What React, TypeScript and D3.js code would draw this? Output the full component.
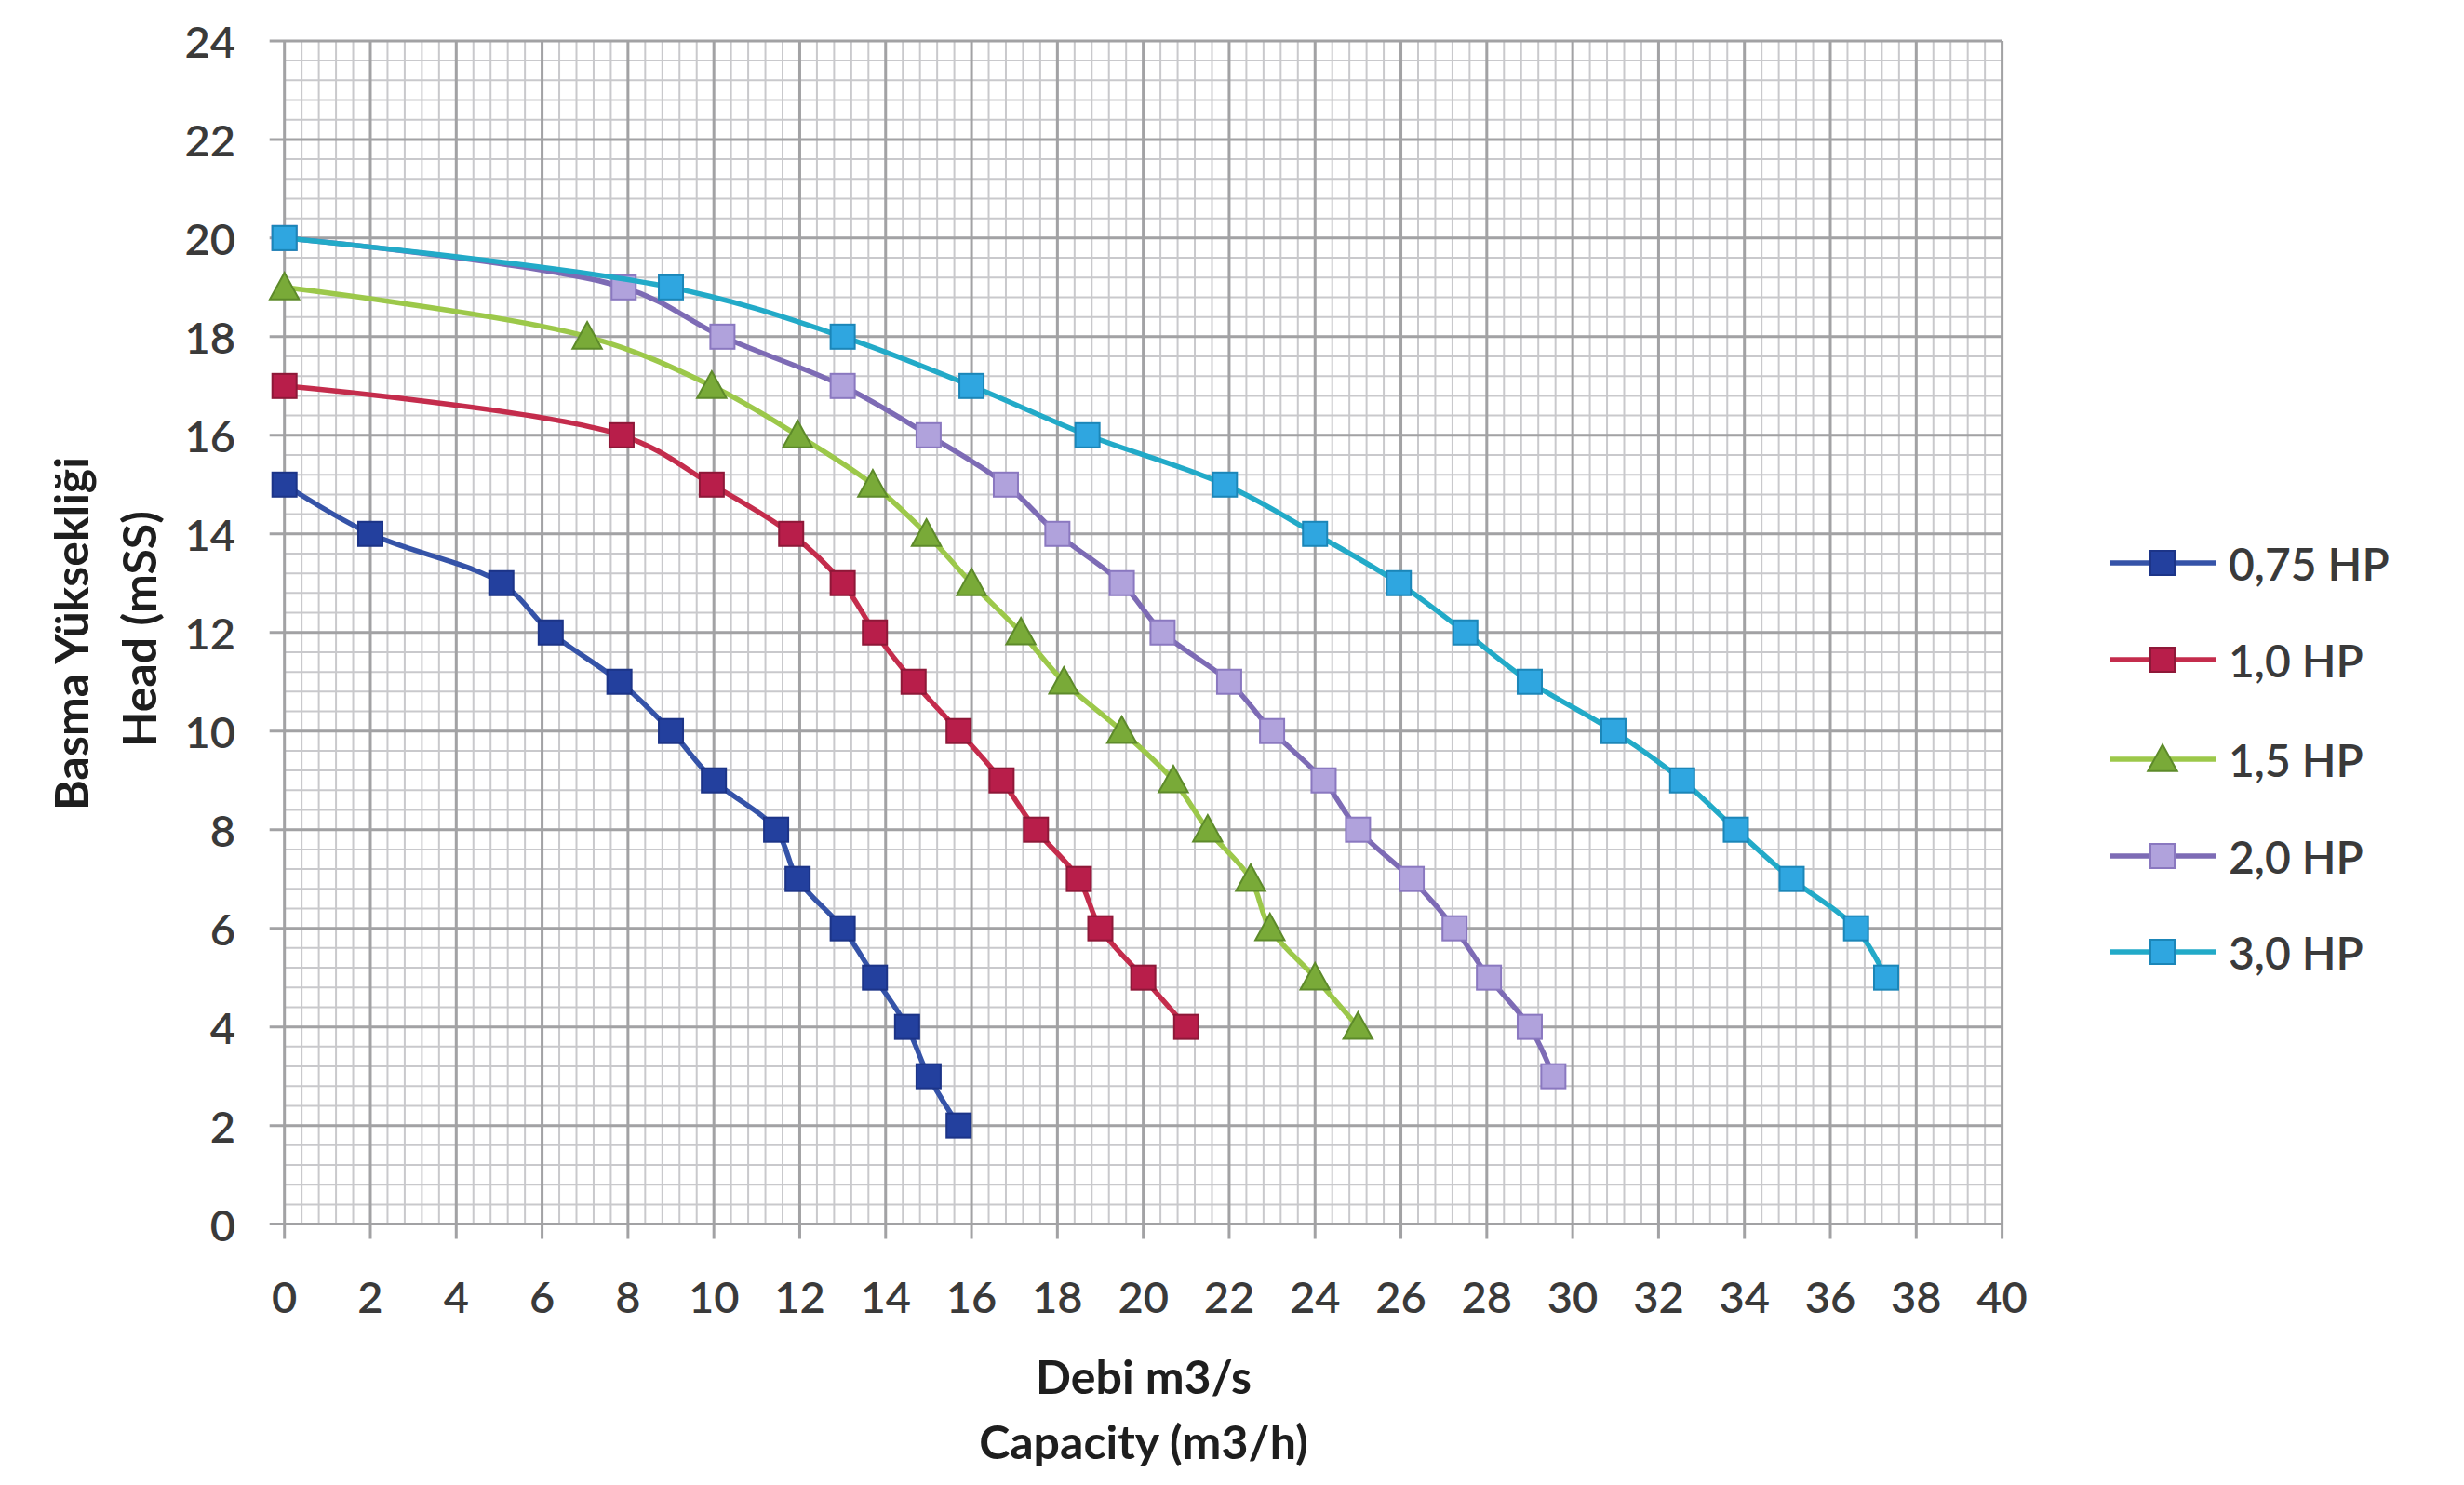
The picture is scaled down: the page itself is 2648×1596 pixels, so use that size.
import React from "react";
import * as d3 from "d3";

const W = 2648;
const H = 1596;

const xTicks = d3.range(0, 41, 2);
const yTicks = d3.range(0, 25, 2);

const seriesNames = ["0,75 HP", "1,0 HP", "1,5 HP", "2,0 HP", "3,0 HP"];

const flow075 = [0, 2.0, 5.05, 6.2, 7.8, 9.0, 10.0, 11.45, 11.95, 13.0, 13.75, 14.5, 15.0, 15.7];
const head075 = [15, 14, 13, 12, 11, 10, 9, 8, 7, 6, 5, 4, 3, 2];

const flow10 = [0, 7.85, 9.95, 11.8, 13.0, 13.75, 14.65, 15.7, 16.7, 17.5, 18.5, 19.0, 20.0, 21.0];
const head10 = [17, 16, 15, 14, 13, 12, 11, 10, 9, 8, 7, 6, 5, 4];

const flow15 = [0, 7.05, 9.95, 11.95, 13.7, 14.95, 16.0, 17.15, 18.15, 19.5, 20.7, 21.5, 22.5, 22.95, 24.0, 25.0];
const head15 = [19, 18, 17, 16, 15, 14, 13, 12, 11, 10, 9, 8, 7, 6, 5, 4];

const flow20 = [0, 7.9, 10.2, 13.0, 15.0, 16.8, 18.0, 19.5, 20.45, 22.0, 23.0, 24.2, 25.0, 26.25, 27.25, 28.05, 29.0, 29.55];
const head20 = [20, 19, 18, 17, 16, 15, 14, 13, 12, 11, 10, 9, 8, 7, 6, 5, 4, 3];

const flow30 = [0, 9.0, 13.0, 16.0, 18.7, 21.9, 24.0, 25.95, 27.5, 29.0, 30.95, 32.55, 33.8, 35.1, 36.6, 37.3];
const head30 = [20, 19, 18, 17, 16, 15, 14, 13, 12, 11, 10, 9, 8, 7, 6, 5];

const flows = [flow075, flow10, flow15, flow20, flow30];
const heads = [head075, head10, head15, head20, head30];

const lineColors = ["#3553a8", "#c42c4c", "#9cc84a", "#7d6bb5", "#22aac8"];
const markerFill = ["#23409e", "#b81e4a", "#79aa38", "#b0a2dc", "#2fa6e0"];
const markerStroke = ["#1c3488", "#8e1838", "#5d8a2a", "#8a78c0", "#1b86b8"];
const markerShape = ["square", "square", "triangle", "square", "square"];

const FONT = "Lato, 'Open Sans', sans-serif";

export default function App() {
  const x = d3.scaleLinear().domain([0, 40]).range([305.7, 2151.6]);
  const y = d3.scaleLinear().domain([0, 24]).range([1315.6, 43.9]);

  const minorX = d3.range(0, 40.001, 0.4);
  const minorY = d3.range(0, 24.001, 0.4);

  const line = d3
    .line<[number, number]>()
    .x((d) => x(d[0]))
    .y((d) => y(d[1]))
    .curve(d3.curveCatmullRom.alpha(0.5));

  const ms = 26;
  const marker = (i: number, cx: number, cy: number, key: string) => {
    if (markerShape[i] === "triangle") {
      const s = ms * 1.1;
      const p = `M${cx},${cy - s * 0.55} L${cx + s * 0.55},${cy + s * 0.45} L${cx - s * 0.55},${cy + s * 0.45} Z`;
      return <path key={key} d={p} fill={markerFill[i]} stroke={markerStroke[i]} strokeWidth={2} />;
    }
    return (
      <rect
        key={key}
        x={cx - ms / 2}
        y={cy - ms / 2}
        width={ms}
        height={ms}
        fill={markerFill[i]}
        stroke={markerStroke[i]}
        strokeWidth={2}
      />
    );
  };

  const legendY = [605, 709, 816, 920, 1023];

  return (
    <svg
      width={W}
      height={H}
      viewBox={`0 0 ${W} ${H}`}
      style={{ position: "absolute", left: 0, top: 0, background: "#fff" }}
    >
      <rect x={0} y={0} width={W} height={H} fill="#fff" />
      {/* minor grid */}
      <g stroke="#c9c9cc" strokeWidth={2}>
        {minorX.map((v, i) => (
          <line key={"mx" + i} x1={x(v)} x2={x(v)} y1={y(24)} y2={y(0)} />
        ))}
        {minorY.map((v, i) => (
          <line key={"my" + i} x1={x(0)} x2={x(40)} y1={y(v)} y2={y(v)} />
        ))}
      </g>
      {/* major grid */}
      <g stroke="#a2a2a4" strokeWidth={3}>
        {xTicks.map((v) => (
          <line key={"Mx" + v} x1={x(v)} x2={x(v)} y1={y(24)} y2={y(0) + 16} />
        ))}
        {yTicks.map((v) => (
          <line key={"My" + v} x1={x(0) - 16} x2={x(40)} y1={y(v)} y2={y(v)} />
        ))}
      </g>
      {/* tick labels */}
      <g fontFamily={FONT} fontSize={47} fontWeight={600} fill="#3a3a3a">
        {yTicks.map((v) => (
          <text key={"yl" + v} x={253} y={y(v)} textAnchor="end" dominantBaseline="central">
            {v}
          </text>
        ))}
        {xTicks.map((v) => (
          <text key={"xl" + v} x={x(v)} y={1393} textAnchor="middle" dominantBaseline="central">
            {v}
          </text>
        ))}
      </g>
      {/* series */}
      {flows.map((fl, i) => {
        const pts = fl.map((f, k) => [f, heads[i][k]] as [number, number]);
        return (
          <g key={"s" + i}>
            <path d={line(pts) || ""} fill="none" stroke={lineColors[i]} strokeWidth={5.5} />
            {pts.map((p, k) => marker(i, x(p[0]), y(p[1]), `m${i}-${k}`))}
          </g>
        );
      })}
      {/* axis titles */}
      <g fontFamily={FONT} fontWeight="bold" fontSize={50} fill="#1e1e1e" textAnchor="middle">
        <text x={1229} y={1479} dominantBaseline="central">Debi m3/s</text>
        <text x={1229} y={1549} dominantBaseline="central">Capacity (m3/h)</text>
        <text transform={`translate(76,681) rotate(-90)`} dominantBaseline="central">
          Basma Yüksekliği
        </text>
        <text transform={`translate(149,676) rotate(-90)`} dominantBaseline="central">
          Head (mSS)
        </text>
      </g>
      {/* legend */}
      <g fontFamily={FONT} fontSize={48} fontWeight={600} fill="#3a3a3a">
        {seriesNames.map((n, i) => (
          <g key={"lg" + i}>
            <line x1={2268} x2={2381} y1={legendY[i]} y2={legendY[i]} stroke={lineColors[i]} strokeWidth={5.5} />
            {marker(i, 2324, legendY[i], "lm" + i)}
            <text x={2395} y={legendY[i]} dominantBaseline="central">
              {n}
            </text>
          </g>
        ))}
      </g>
    </svg>
  );
}
